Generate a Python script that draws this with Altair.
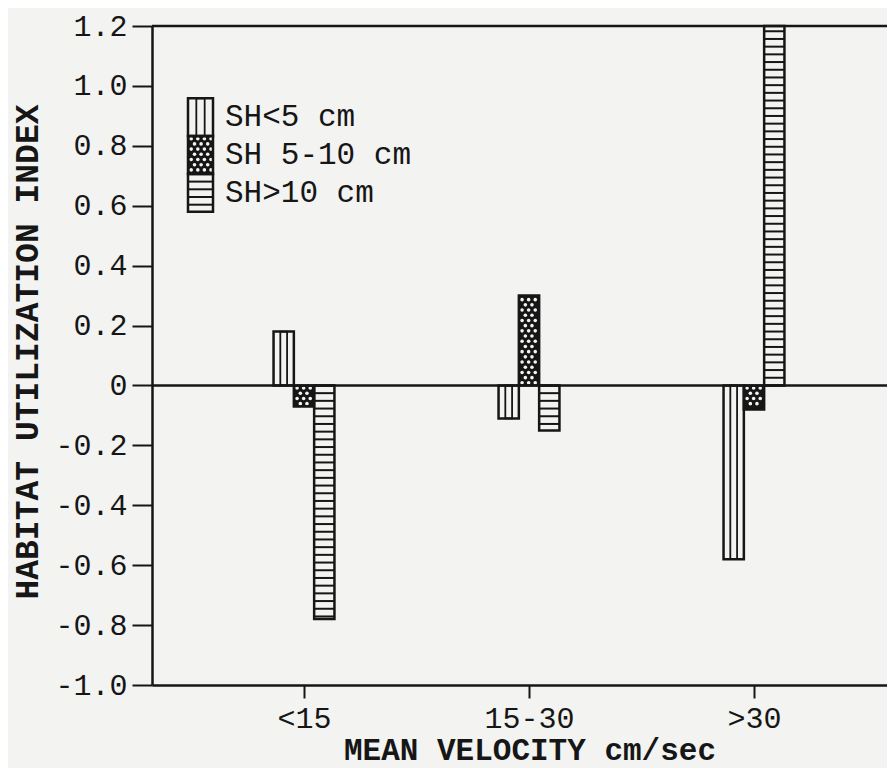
import json
import pandas as pd
import altair as alt

# ---------------- data ----------------
categories = ["<15", "15-30", ">30"]
groups = ["SH<5 cm", "SH 5-10 cm", "SH>10 cm"]
sh_lt5 = [0.18, -0.11, -0.58]
sh_5_10 = [-0.07, 0.30, -0.08]
sh_gt10 = [-0.78, -0.15, 1.20]
y_ticks = [-1.0, -0.8, -0.6, -0.4, -0.2, 0.0, 0.2, 0.4, 0.6, 0.8, 1.0, 1.2]
ref_lines = [0.0, 1.2]
x_title = "MEAN VELOCITY cm/sec"
y_title = "HABITAT UTILIZATION INDEX"

rows = []
for ci, cat in enumerate(categories):
    for g, series in zip(groups, [sh_lt5, sh_5_10, sh_gt10]):
        rows.append({"category": cat, "group": g, "value": series[ci]})
df = pd.DataFrame(rows)
legdf = pd.DataFrame({"group": groups, "li": list(range(len(groups)))})
refdf = pd.DataFrame({"ref": ref_lines})

# ---------------- style / layout ----------------
INK = "#161616"
BG = "#f3f3f1"
FONT = "Liberation Mono"
W, H = 735, 659
PAD = {"left": 144, "top": 18, "right": 0, "bottom": 83}
STEP_PX = 225.0                       # pixels per category
XMIN = -(304 - 152) / STEP_PX
XMAX = XMIN + W / STEP_PX
YMIN, YMAX = -1.0, 1.2
PX_Y = H / (YMAX - YMIN)
BAR_PX = 20.3
BW = BAR_PX / STEP_PX
STRIPE_PX = 7.7
SU = STRIPE_PX / PX_Y
DY_PX, DX_PX, DX0_PX = 5.2, 6.6, 3.2
DYU = DY_PX / PX_Y
DOT_SIZE = 13

# legend geometry (pixels, relative to plot area)
LX0, LX1 = 36.0, 61.0
LEG_TOP, LEG_H = 72.3, 37.8
LTX = 73.0

cats_js = json.dumps(categories)
groups_js = json.dumps(groups)

xscale = alt.Scale(domain=[XMIN, XMAX], nice=False, zero=False)
yscale = alt.Scale(domain=[YMIN, YMAX], nice=False, zero=False)
fill_scale = alt.Scale(domain=groups, range=[BG, INK, BG])

xaxis = alt.Axis(
    values=[0, 1, 2], labelExpr=f"{cats_js}[datum.value]",
    grid=False, domainColor=INK, domainWidth=2.5, tickColor=INK, tickWidth=2,
    tickSize=13, labelFont=FONT, labelFontSize=30, labelColor=INK,
    labelPadding=29, labelBaseline="alphabetic", labelAlign="center",
    labelFlush=False, labelOverlap=False,
    title=x_title, titleFont=FONT, titleFontSize=31, titleFontWeight="bold",
    titleColor=INK, titleX=377.5, titleY=74, titleBaseline="alphabetic",
    titleAlign="center",
)
yaxis = alt.Axis(
    values=y_ticks,
    labelExpr="datum.value == 0 ? '0' : (datum.value < 0 ? '-' : '') + format(abs(datum.value), '.1f')",
    grid=False, domainColor=INK, domainWidth=2.5, tickColor=INK, tickWidth=2,
    tickSize=20, labelFont=FONT, labelFontSize=30, labelColor=INK,
    labelPadding=5, labelOverlap=False, labelFlush=False,
    title=y_title, titleFont=FONT, titleFontSize=33, titleFontWeight="bold",
    titleColor=INK, titleX=-115, titleY=325.5, titleAngle=270,
    titleAlign="center", titleBaseline="alphabetic",
)


def X(field):
    return alt.X(field, scale=xscale, axis=xaxis)


def Y(field):
    return alt.Y(field, scale=yscale, axis=yaxis)


base = (
    alt.Chart(df)
    .transform_calculate(ci=f"indexof({cats_js}, datum.category)")
    .transform_calculate(gi=f"indexof({groups_js}, datum.group)")
    .transform_calculate(x0=f"datum.ci + (datum.gi - 1.5) * {BW}")
    .transform_calculate(x1=f"datum.ci + (datum.gi - 0.5) * {BW}")
)

bars = base.mark_rect(strokeWidth=0).encode(
    x=X("x0:Q"), x2="x1:Q", y=Y("value:Q"), y2=alt.datum(0),
    fill=alt.Fill("group:N", scale=fill_scale, legend=None),
)

dots = (
    base.transform_filter(alt.datum.group == groups[1])
    .transform_calculate(r=f"sequence(0, ceil(abs(datum.value) / {DYU}))")
    .transform_flatten(["r"])
    .transform_calculate(c="sequence(0, 4)")
    .transform_flatten(["c"])
    .transform_calculate(yd=f"(datum.value < 0 ? -1 : 1) * (datum.r + 0.5) * {DYU}")
    .transform_calculate(offpx=f"{DX0_PX} + datum.c * {DX_PX} + (datum.r % 2) * {DX_PX / 2}")
    .transform_filter(f"abs(datum.yd) < abs(datum.value) - {1.8 / PX_Y} && datum.offpx < {BAR_PX - 1.8}")
    .transform_calculate(xd=f"datum.x0 + datum.offpx / {STEP_PX}")
    .mark_circle(color=BG, opacity=1, size=DOT_SIZE)
    .encode(x=X("xd:Q"), y=Y("yd:Q"))
)

stripes = (
    base.transform_filter(alt.datum.group == groups[2])
    .transform_calculate(s=f"sequence(0, datum.value, datum.value < 0 ? -{SU} : {SU})")
    .transform_flatten(["s"])
    .mark_rule(color=INK, strokeWidth=2)
    .encode(x=X("x0:Q"), x2="x1:Q", y=Y("s:Q"))
)

vlines = (
    base.transform_filter(alt.datum.group == groups[0])
    .transform_calculate(xa=f"datum.x0 + {BW / 3}", xb=f"datum.x0 + {2 * BW / 3}")
    .mark_rect(fill="transparent", stroke=INK, strokeWidth=1.8)
    .encode(x=X("xa:Q"), x2="xb:Q", y=Y("value:Q"), y2=alt.datum(0))
)

outlines = base.mark_rect(fill="transparent", stroke=INK, strokeWidth=2.5).encode(
    x=X("x0:Q"), x2="x1:Q", y=Y("value:Q"), y2=alt.datum(0),
)

refs = alt.Chart(refdf).mark_rule(color=INK, strokeWidth=2.5).encode(
    y=Y("ref:Q"), x=alt.value(0), x2=alt.value(W)
)

# ---------------- legend (drawn) ----------------
leg = (
    alt.Chart(legdf)
    .transform_calculate(ly0=f"{LEG_TOP} + datum.li * {LEG_H}")
    .transform_calculate(ly1=f"datum.ly0 + {LEG_H}")
    .transform_calculate(lym=f"datum.ly0 + {LEG_H / 2}")
)
leg_fill = leg.mark_rect(strokeWidth=0).encode(
    x=alt.value(LX0), x2=alt.value(LX1),
    y=alt.Y("ly0:Q", scale=None), y2="ly1:Q",
    fill=alt.Fill("group:N", scale=fill_scale, legend=None),
)
leg_dots = (
    leg.transform_filter("datum.li == 1")
    .transform_calculate(r=f"sequence(0, {int(LEG_H / DY_PX) + 1})")
    .transform_flatten(["r"])
    .transform_calculate(c="sequence(0, 5)")
    .transform_flatten(["c"])
    .transform_calculate(py=f"datum.ly0 + (datum.r + 0.5) * {DY_PX}")
    .transform_calculate(px=f"{LX0 + DX0_PX} + datum.c * {DX_PX} + (datum.r % 2) * {DX_PX / 2}")
    .transform_filter(f"datum.py < datum.ly1 - 1.8 && datum.px < {LX1 - 1.8}")
    .mark_circle(color=BG, opacity=1, size=DOT_SIZE)
    .encode(x=alt.X("px:Q", scale=None), y=alt.Y("py:Q", scale=None))
)
leg_stripes = (
    leg.transform_filter("datum.li == 2")
    .transform_calculate(s=f"sequence(datum.ly0, datum.ly1, {STRIPE_PX})")
    .transform_flatten(["s"])
    .mark_rule(color=INK, strokeWidth=2)
    .encode(x=alt.value(LX0), x2=alt.value(LX1), y=alt.Y("s:Q", scale=None))
)
leg_vlines = (
    leg.transform_filter("datum.li == 0")
    .mark_rect(fill="transparent", stroke=INK, strokeWidth=1.8)
    .encode(x=alt.value(LX0 + (LX1 - LX0) / 3), x2=alt.value(LX0 + 2 * (LX1 - LX0) / 3),
            y=alt.Y("ly0:Q", scale=None), y2="ly1:Q")
)
leg_outline = leg.mark_rect(fill="transparent", stroke=INK, strokeWidth=2.5).encode(
    x=alt.value(LX0), x2=alt.value(LX1),
    y=alt.Y("ly0:Q", scale=None), y2="ly1:Q",
)
leg_text = leg.mark_text(align="left", baseline="middle", font=FONT, fontSize=31,
                         color=INK).encode(
    x=alt.value(LTX), y=alt.Y("lym:Q", scale=None), text="group:N"
)

chart = (
    alt.layer(bars, dots, stripes, vlines, outlines, refs,
              leg_fill, leg_dots, leg_stripes, leg_vlines, leg_outline, leg_text)
    .properties(width=W, height=H, autosize=alt.AutoSizeParams(type="none"),
                padding=PAD, background=BG)
    .configure_view(stroke=None)
)

chart.save("out.html", embed_options={"renderer": "svg", "actions": False})
